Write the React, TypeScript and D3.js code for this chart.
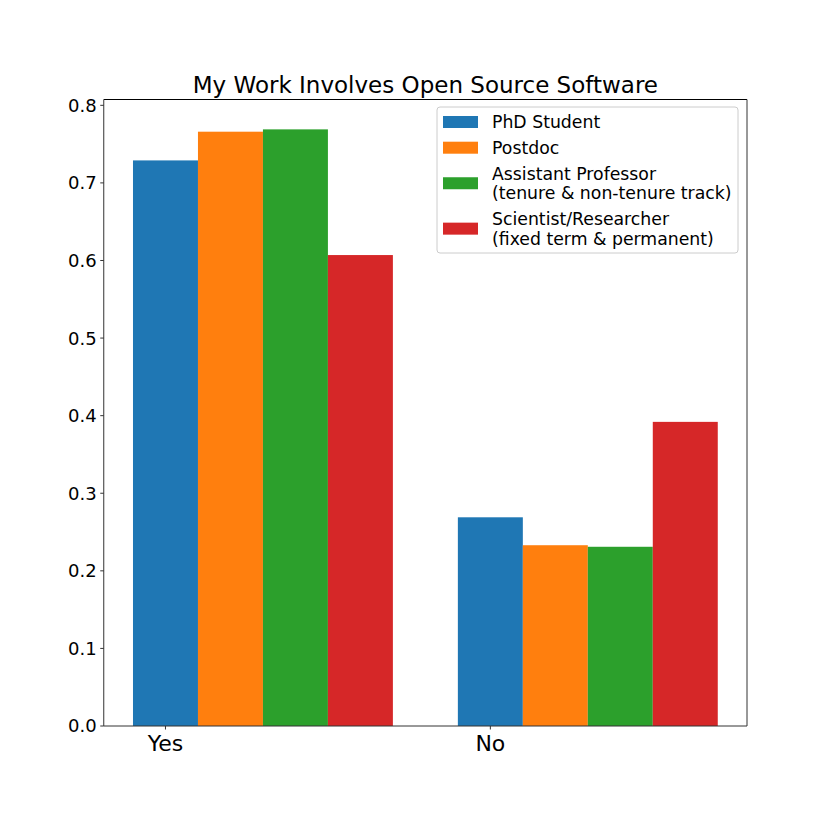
import React from "react";
import * as d3 from "d3";

const categories = ["Yes", "No"];
const seriesNames = [
  ["PhD Student"],
  ["Postdoc"],
  ["Assistant Professor", "(tenure & non-tenure track)"],
  ["Scientist/Researcher", "(fixed term & permanent)"],
];
const colors = ["#1f77b4", "#ff7f0e", "#2ca02c", "#d62728"];
const phdStudent = [0.729, 0.269];
const postdoc = [0.766, 0.233];
const assistantProfessor = [0.769, 0.231];
const scientistResearcher = [0.607, 0.392];
const yTicks = [0, 0.1, 0.2, 0.3, 0.4, 0.5, 0.6, 0.7, 0.8];
const title = "My Work Involves Open Source Software";

const series = [phdStudent, postdoc, assistantProfessor, scientistResearcher];

export default function App() {
  const W = 830, H = 830;
  const left = 103.75, right = 747, top = 99.5, bottom = 726;
  const barW = 0.2;
  const x = d3.scaleLinear().domain([-0.19, 1.79]).range([left, right]);
  const y = d3.scaleLinear().domain([0, 0.8075]).range([bottom, top]);
  const font = "DejaVu Sans, sans-serif";

  // legend layout
  const lx = 437, ly = 107, lw = 301, lh = 146;
  let rowY = ly + 15;
  const rows: { y: number; lines: string[]; color: string }[] = [];
  seriesNames.forEach((lines, i) => {
    rows.push({ y: rowY, lines, color: colors[i] });
    rowY += lines.length * 19.7 + 6;
  });

  return (
    <svg width={W} height={H} style={{ position: "absolute", left: 0, top: 0 }} fontFamily={font}>
      <rect x={0} y={0} width={W} height={H} fill="#fff" />
      {series.map((vals, si) =>
        vals.map((v, ci) => {
          const x0 = x(ci - 0.1 + si * barW);
          const x1 = x(ci - 0.1 + (si + 1) * barW);
          return (
            <rect key={`${si}-${ci}`} x={x0} y={y(v)} width={x1 - x0} height={y(0) - y(v)} fill={colors[si]} />
          );
        })
      )}
      {/* spines */}
      <line x1={left} x2={right} y1={top} y2={top} stroke="#000" strokeWidth={1} />
      <line x1={left} x2={right} y1={bottom} y2={bottom} stroke="#333" strokeWidth={1} />
      <line x1={left} x2={left} y1={top} y2={bottom} stroke="#333" strokeWidth={1} />
      <line x1={right} x2={right} y1={top} y2={bottom} stroke="#333" strokeWidth={1} />
      {yTicks.map((t) => (
        <g key={t}>
          <line x1={left - 3.5} x2={left} y1={y(t)} y2={y(t)} stroke="#333" strokeWidth={1} />
          <text x={left - 7} y={y(t)} dy="0.36em" textAnchor="end" fontSize={18} fill="#000">
            {t.toFixed(1)}
          </text>
        </g>
      ))}
      {categories.map((c, i) => (
        <g key={c}>
          <line x1={x(i)} x2={x(i)} y1={bottom} y2={bottom + 3.5} stroke="#333" strokeWidth={1} />
          <text x={x(i)} y={bottom + 25} textAnchor="middle" fontSize={22} fill="#000">
            {c}
          </text>
        </g>
      ))}
      <text x={(left + right) / 2} y={top - 7} textAnchor="middle" fontSize={23} fill="#000">
        {title}
      </text>
      <rect x={lx} y={ly} width={lw} height={lh} rx={3} fill="#fff" fillOpacity={0.8} stroke="#ccc" strokeWidth={1} />
      {rows.map((r, i) => {
        const mid = r.y + ((r.lines.length - 1) * 19.7) / 2;
        return (
          <g key={i}>
            <rect x={443} y={mid - 6} width={35} height={12} fill={r.color} />
            {r.lines.map((ln, k) => (
              <text key={k} x={492} y={r.y + k * 19.7} dy="0.36em" fontSize={17.3} fill="#000">
                {ln}
              </text>
            ))}
          </g>
        );
      })}
    </svg>
  );
}
